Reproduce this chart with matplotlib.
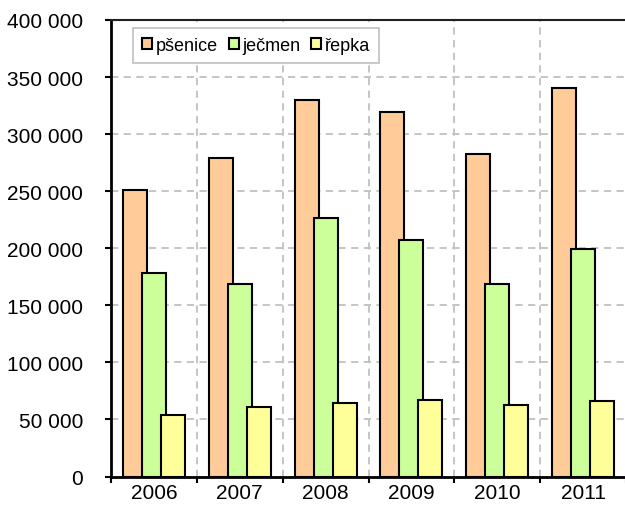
import matplotlib
matplotlib.use("Agg")
import numpy as np
import matplotlib.pyplot as plt
from matplotlib.ticker import FuncFormatter, MultipleLocator, FixedLocator

plt.rcParams['font.family'] = ['Liberation Sans', 'DejaVu Sans']

# data
years = ['2006', '2007', '2008', '2009', '2010', '2011']
psenice = [251000, 279000, 330000, 319000, 283000, 340000]
jecmen = [178000, 169000, 226500, 207500, 169000, 199000]
repka = [54000, 61000, 64000, 67000, 62500, 66000]

series_names = ['pšenice', 'ječmen', 'řepka']
colors = ['#FFCC99', '#CCFF99', '#FFFF99']

fig = plt.figure(figsize=(6.25, 5.06), dpi=100)
ax = fig.add_axes([111 / 625, 28.5 / 506, 515 / 625, 456.5 / 506])

x = np.arange(len(years))
width = 0.28
step = 0.222
for i, (vals, name, col) in enumerate(zip([psenice, jecmen, repka], series_names, colors)):
    ax.bar(x + (i - 1) * step, vals, width=width, color=col, edgecolor='black',
           linewidth=1.5, label=name, zorder=3 + i)

ax.set_xlim(-0.5, len(years) - 0.5)
ax.set_ylim(0, 400000)

# y axis, thousands split by a space
ax.yaxis.set_major_locator(MultipleLocator(50000))
ax.yaxis.set_major_formatter(FuncFormatter(lambda v, p: f"{int(v):,}".replace(',', ' ')))
ax.tick_params(axis='y', which='major', direction='out', length=4, width=1.5, pad=16,
               labelsize=15, color='black')

# x axis: ticks at the category borders, labels at the centres
ax.xaxis.set_major_locator(FixedLocator(np.arange(-0.5, len(years), 1.0)))
ax.xaxis.set_major_formatter(FuncFormatter(lambda v, p: ''))
ax.xaxis.set_minor_locator(FixedLocator(x))
ax.set_xticklabels(years, minor=True)
ax.tick_params(axis='x', which='major', direction='out', length=4, width=1.5)
ax.tick_params(axis='x', which='minor', length=0, pad=5, labelsize=15)

ax.grid(True, which='major', axis='both', color='#c0c0c0', linestyle=(0, (4, 3)),
        linewidth=1.3, zorder=0)
ax.set_axisbelow(True)

ax.spines['left'].set_linewidth(2)
ax.spines['bottom'].set_linewidth(2)
ax.spines['top'].set_linewidth(1.5)
ax.spines['top'].set_color('#202020')
ax.spines['right'].set_visible(False)

leg = ax.legend(loc='upper left', bbox_to_anchor=(0.043, 0.982), ncol=3, fontsize=13,
                frameon=True, fancybox=False, edgecolor='#c0c0c0', framealpha=1,
                handlelength=0.55, handleheight=0.55, handletextpad=0.2,
                columnspacing=0.6, borderpad=0.5, borderaxespad=0)
leg.get_frame().set_linewidth(1.2)

fig.savefig('out.png', dpi=100)
